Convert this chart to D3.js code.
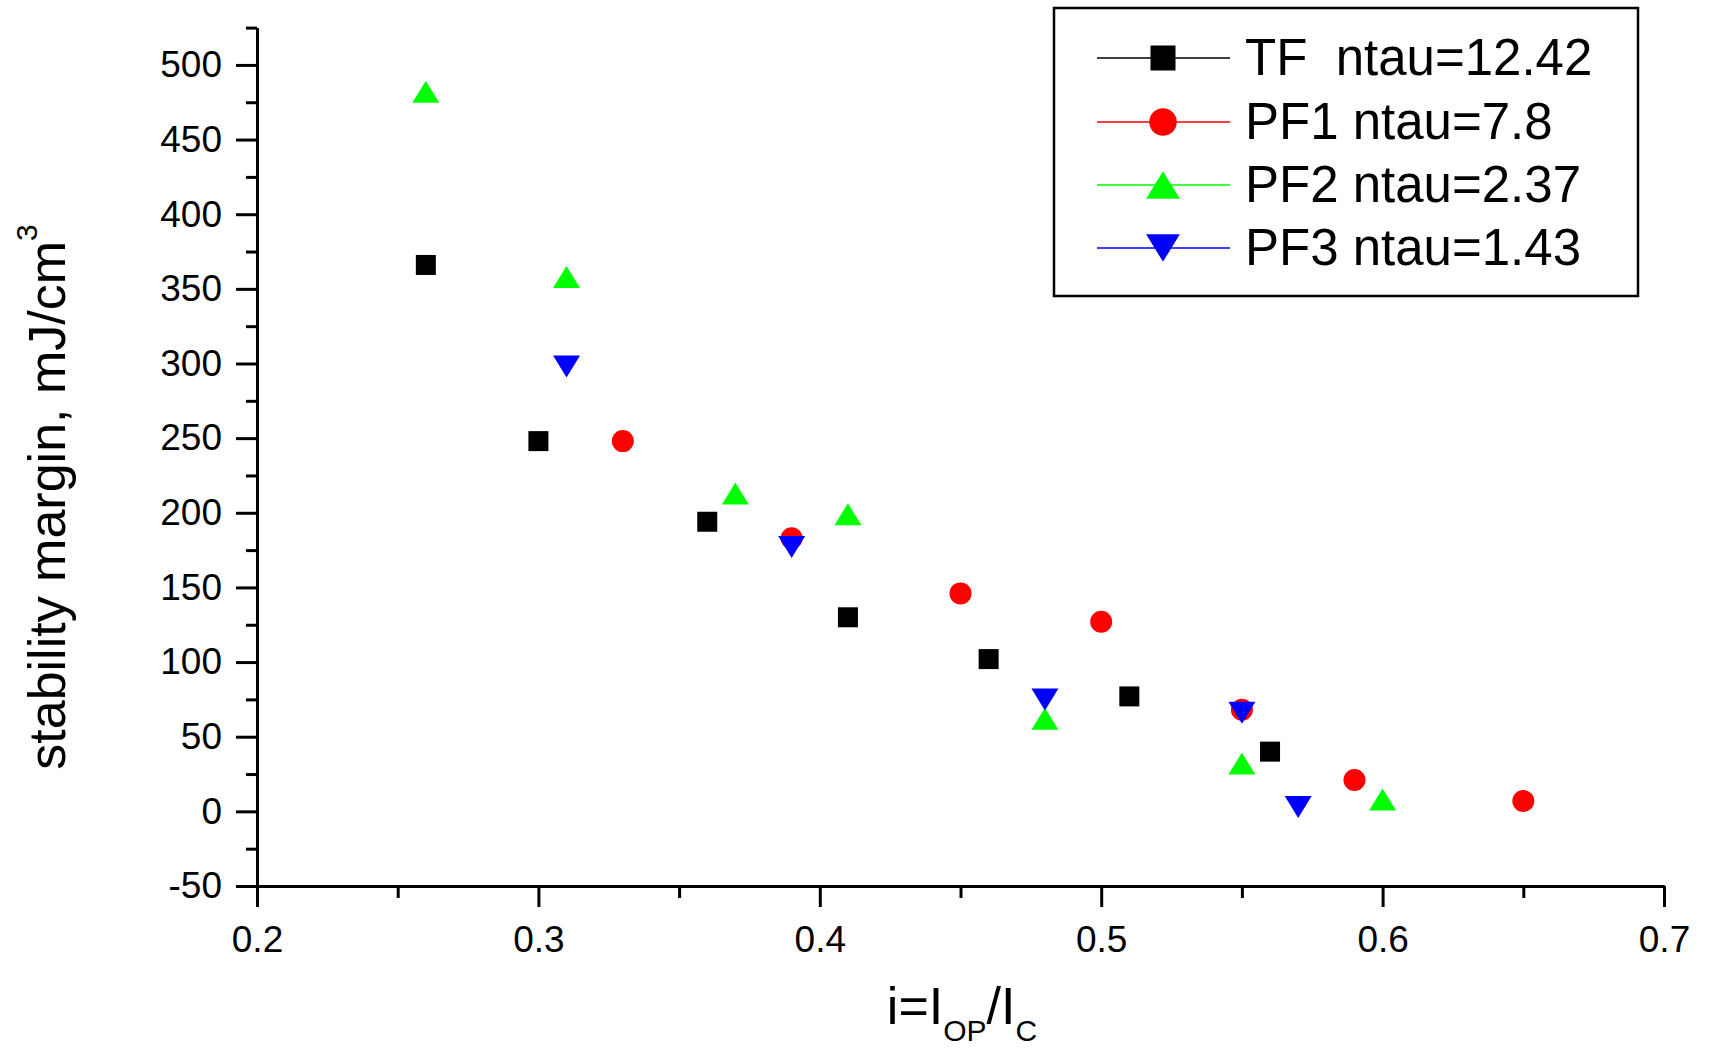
<!DOCTYPE html>
<html>
<head>
<meta charset="utf-8">
<script src="https://cdn.jsdelivr.net/npm/d3@7"></script>
<style>
  html, body { margin: 0; padding: 0; background: #fff; }
  svg { display: block; }
  text { font-family: "Liberation Sans", Arial, Helvetica, sans-serif; fill: #000; }
</style>
</head>
<body>
<svg id="chart" width="1709" height="1052"></svg>
<script>
// ---- data ----
const seriesNames = ["TF  ntau=12.42", "PF1 ntau=7.8", "PF2 ntau=2.37", "PF3 ntau=1.43"];
const seriesColors = ["#000000", "#ff0000", "#00ff00", "#0000ff"];
const seriesShapes = ["square", "circle", "up", "down"];

const tfX  = [0.26, 0.30, 0.36, 0.41, 0.46, 0.51, 0.56];
const tfY  = [366, 248, 194, 130, 102, 77, 40];
const pf1X = [0.33, 0.39, 0.45, 0.50, 0.55, 0.59, 0.65];
const pf1Y = [248, 183, 146, 127, 68, 21, 7];
const pf2X = [0.26, 0.31, 0.37, 0.41, 0.48, 0.55, 0.60];
const pf2Y = [482, 358, 213, 199, 62, 32, 8];
const pf3X = [0.31, 0.39, 0.48, 0.55, 0.57];
const pf3Y = [298, 177, 75, 66, 3];

const xTicks = [0.2, 0.3, 0.4, 0.5, 0.6, 0.7];
const xMinor = [0.25, 0.35, 0.45, 0.55, 0.65];
const yTicks = [-50, 0, 50, 100, 150, 200, 250, 300, 350, 400, 450, 500];
const yMinor = [-25, 25, 75, 125, 175, 225, 275, 325, 375, 425, 475, 525];

const xTitle = ["i=I", "OP", "/I", "C"];
const yTitle = "stability margin, mJ/cm";
const yTitleSup = "3";

// ---- build ----
const series = [
  {name: seriesNames[0], color: seriesColors[0], shape: seriesShapes[0], xs: tfX, ys: tfY},
  {name: seriesNames[1], color: seriesColors[1], shape: seriesShapes[1], xs: pf1X, ys: pf1Y},
  {name: seriesNames[2], color: seriesColors[2], shape: seriesShapes[2], xs: pf2X, ys: pf2Y},
  {name: seriesNames[3], color: seriesColors[3], shape: seriesShapes[3], xs: pf3X, ys: pf3Y}
];

const svg = d3.select("#chart");
const x = d3.scaleLinear().domain([0.2, 0.7]).range([257, 1664]);
const y = d3.scaleLinear().domain([-50, 525]).range([886, 27.6]);

// symbol types sized by bounding box
function triType(up, w, h) {
  return { draw(ctx) {
    const s = up ? 1 : -1;
    ctx.moveTo(0, -s * h / 2);
    ctx.lineTo(w / 2, s * h / 2);
    ctx.lineTo(-w / 2, s * h / 2);
    ctx.closePath();
  }};
}
function symbolPath(shape, scale) {
  if (shape === "square") return d3.symbol(d3.symbolSquare, 400 * scale * scale)();
  if (shape === "circle") return d3.symbol(d3.symbolCircle, Math.PI * 121 * scale * scale)();
  if (shape === "up") return d3.symbol(triType(true, 27 * scale, 22 * scale))();
  return d3.symbol(triType(false, 27 * scale, 22 * scale))();
}

// axes
const axisStyle = g => {
  g.select(".domain").attr("stroke", "#000").attr("stroke-width", 3);
  g.selectAll(".tick line").attr("stroke", "#000").attr("stroke-width", 3);
  g.selectAll("text").attr("font-size", 37).attr("font-family", '"Liberation Sans", Arial, sans-serif').attr("fill", "#000");
};

const xAxis = svg.append("g").attr("transform", "translate(0,886)")
  .call(d3.axisBottom(x).tickValues(xTicks).tickSize(21).tickSizeOuter(0).tickPadding(19)
    .tickFormat(d3.format(".1f")));
axisStyle(xAxis);
const xAxisMinor = svg.append("g").attr("transform", "translate(0,886)")
  .call(d3.axisBottom(x).tickValues(xMinor).tickSize(12).tickSizeOuter(0).tickFormat(""));
axisStyle(xAxisMinor);

const yAxis = svg.append("g").attr("transform", "translate(257,0)")
  .call(d3.axisLeft(y).tickValues(yTicks).tickSize(21).tickSizeOuter(0).tickPadding(14)
    .tickFormat(d => String(d)));
axisStyle(yAxis);
const yAxisMinor = svg.append("g").attr("transform", "translate(257,0)")
  .call(d3.axisLeft(y).tickValues(yMinor).tickSize(11).tickSizeOuter(0).tickFormat(""));
axisStyle(yAxisMinor);

// points
series.forEach(s => {
  const pts = s.xs.map((v, i) => ({x: v, y: s.ys[i]}));
  svg.append("g").selectAll("path").data(pts).join("path")
    .attr("d", symbolPath(s.shape, 1))
    .attr("transform", d => `translate(${x(d.x)},${y(d.y)})`)
    .attr("fill", s.color);
});

// axis titles
const xt = svg.append("text").attr("x", 962).attr("y", 1024)
  .attr("text-anchor", "middle").attr("font-size", 52);
xt.append("tspan").text(xTitle[0]);
xt.append("tspan").attr("font-size", 30).attr("dy", 17).text(xTitle[1]);
xt.append("tspan").attr("dy", -17).text(xTitle[2]);
xt.append("tspan").attr("font-size", 30).attr("dy", 17).text(xTitle[3]);

const yt = svg.append("text").attr("transform", "translate(65,497) rotate(-90)")
  .attr("text-anchor", "middle").attr("font-size", 52);
yt.append("tspan").text(yTitle);
yt.append("tspan").attr("font-size", 30).attr("dy", -28).text(yTitleSup);

// legend
const lg = svg.append("g");
lg.append("rect").attr("x", 1054).attr("y", 8).attr("width", 584).attr("height", 288)
  .attr("fill", "#fff").attr("stroke", "#000").attr("stroke-width", 2.5);
const rowY = [58, 122, 185, 248];
series.forEach((s, i) => {
  const g = lg.append("g").attr("transform", `translate(0,${rowY[i]})`);
  g.append("line").attr("x1", 1097).attr("x2", 1230).attr("y1", 0).attr("y2", 0)
    .attr("stroke", s.color).attr("stroke-width", 1.5);
  g.append("path").attr("d", symbolPath(s.shape, 1.25))
    .attr("transform", "translate(1163,0)").attr("fill", s.color);
  g.append("text").attr("x", 1245).attr("y", 17).attr("font-size", 51)
    .style("white-space", "pre").text(s.name);
});
</script>
</body>
</html>
